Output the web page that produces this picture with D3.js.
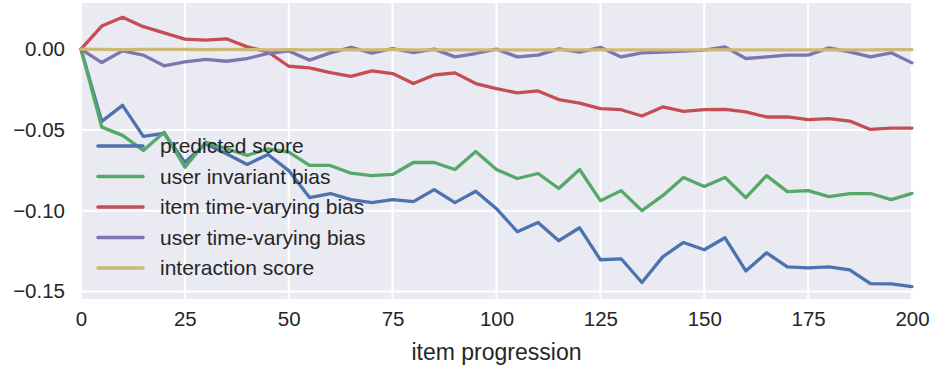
<!DOCTYPE html>
<html>
<head>
<meta charset="utf-8">
<script src="https://cdn.jsdelivr.net/npm/d3@7"></script>
<style>
  body { margin: 0; background: #fff; }
  text { font-family: "Liberation Sans", Arial, sans-serif; fill: #262626; }
</style>
</head>
<body>
<script>
// Data: x positions and one array per series
var steps = [0,5,10,15,20,25,30,35,40,45,50,55,60,65,70,75,80,85,90,95,100,
             105,110,115,120,125,130,135,140,145,150,155,160,165,170,175,180,185,190,195,200];

var predictedScore = [0,-0.0447,-0.0348,-0.0540,-0.0522,-0.0700,-0.0586,-0.0648,-0.0714,-0.0652,-0.0752,
  -0.0919,-0.0894,-0.0932,-0.0950,-0.0932,-0.0944,-0.0870,-0.0950,-0.0880,-0.0988,
  -0.1130,-0.1073,-0.1186,-0.1106,-0.1304,-0.1298,-0.1445,-0.1286,-0.1197,-0.1242,
  -0.1168,-0.1373,-0.1261,-0.1348,-0.1354,-0.1348,-0.1366,-0.1452,-0.1453,-0.1470];

var userInvariantBias = [0,-0.0483,-0.0534,-0.0627,-0.0514,-0.0731,-0.0576,-0.0617,-0.0658,-0.0617,-0.0638,
  -0.0720,-0.0720,-0.0768,-0.0783,-0.0776,-0.0702,-0.0702,-0.0745,-0.0634,-0.0745,
  -0.0801,-0.0770,-0.0863,-0.0745,-0.0938,-0.0876,-0.1000,-0.0907,-0.0795,-0.0851,
  -0.0795,-0.0919,-0.0783,-0.0882,-0.0876,-0.0913,-0.0894,-0.0894,-0.0932,-0.0893];

var itemTimeVaryingBias = [0,0.0143,0.0197,0.0139,0.0101,0.0062,0.0056,0.0064,0.0014,-0.0017,-0.0106,
  -0.0116,-0.0145,-0.0168,-0.0135,-0.0151,-0.0213,-0.0160,-0.0147,-0.0213,-0.0244,
  -0.0271,-0.0259,-0.0312,-0.0334,-0.0368,-0.0375,-0.0414,-0.0358,-0.0385,-0.0375,
  -0.0373,-0.0389,-0.0420,-0.0420,-0.0437,-0.0430,-0.0445,-0.0497,-0.0489,-0.0489];

var userTimeVaryingBias = [0,-0.0083,-0.0011,-0.0037,-0.0103,-0.0079,-0.0064,-0.0075,-0.0058,-0.0027,-0.0011,
  -0.0068,-0.0023,0.0011,-0.0025,0.0004,-0.0021,0.0000,-0.0048,-0.0027,0.0000,
  -0.0048,-0.0037,0.0002,-0.0019,0.0011,-0.0048,-0.0023,-0.0018,-0.0012,-0.0006,
  0.0014,-0.0058,-0.0048,-0.0037,-0.0037,0.0008,-0.0017,-0.0048,-0.0023,-0.0085];

var interactionScore = [0,-0.0002,-0.0003,-0.0002,-0.0001,-0.0002,-0.0003,-0.0002,-0.0003,-0.0004,-0.0003,
  -0.0004,-0.0003,-0.0004,-0.0004,-0.0003,-0.0004,-0.0005,-0.0004,-0.0004,-0.0005,
  -0.0004,-0.0005,-0.0004,-0.0005,-0.0005,-0.0004,-0.0005,-0.0005,-0.0004,-0.0005,
  -0.0005,-0.0004,-0.0005,-0.0005,-0.0004,-0.0005,-0.0004,-0.0004,-0.0003,-0.0003];

var seriesNames = ["predicted score", "user invariant bias", "item time-varying bias",
                   "user time-varying bias", "interaction score"];
var seriesValues = [predictedScore, userInvariantBias, itemTimeVaryingBias,
                    userTimeVaryingBias, interactionScore];
var colors = ["#4C72B0", "#55A868", "#C44E52", "#8172B2", "#CCB974"];

var xTicks = [0, 25, 50, 75, 100, 125, 150, 175, 200];
var yTicks = [0, -0.05, -0.10, -0.15];

//Width and height
var w = 934;
var h = 370;
var plotLeft = 81, plotRight = 912, plotTop = 3, plotBottom = 299;

var xScale = d3.scaleLinear().domain([0, 200]).range([plotLeft, plotRight]);
var yScale = d3.scaleLinear().domain([-0.1547, 0.02857]).range([plotBottom, plotTop]);

var svg = d3.select("body")
    .append("svg")
    .attr("width", w)
    .attr("height", h);

// Plot background
svg.append("rect")
    .attr("x", plotLeft)
    .attr("y", plotTop)
    .attr("width", plotRight - plotLeft)
    .attr("height", plotBottom - plotTop)
    .attr("fill", "#EAEAF2");

// Gridlines
svg.append("g")
    .selectAll("line")
    .data(xTicks)
    .enter()
    .append("line")
    .attr("x1", function(d) { return xScale(d); })
    .attr("x2", function(d) { return xScale(d); })
    .attr("y1", plotTop)
    .attr("y2", plotBottom)
    .attr("stroke", "#fff")
    .attr("stroke-width", 2);

svg.append("g")
    .selectAll("line")
    .data(yTicks)
    .enter()
    .append("line")
    .attr("x1", plotLeft)
    .attr("x2", plotRight)
    .attr("y1", function(d) { return yScale(d); })
    .attr("y2", function(d) { return yScale(d); })
    .attr("stroke", "#fff")
    .attr("stroke-width", 2);

// Axes (tick labels only, seaborn darkgrid style)
var xAxis = d3.axisBottom(xScale).tickValues(xTicks).tickSize(0).tickPadding(12)
    .tickFormat(d3.format("d"));
var yAxis = d3.axisLeft(yScale).tickValues(yTicks).tickSize(0).tickPadding(16)
    .tickFormat(function(d) { return d3.format(".2f")(d).replace("-", "\u2212"); });

var gx = svg.append("g")
    .attr("transform", `translate(0, ${plotBottom})`)
    .call(xAxis);
gx.select(".domain").remove();
gx.selectAll("text").attr("font-size", "20.5px").attr("fill", "#262626")
    .attr("font-family", "'Liberation Sans', Arial, sans-serif");

var gy = svg.append("g")
    .attr("transform", `translate(${plotLeft}, 0)`)
    .call(yAxis);
gy.select(".domain").remove();
gy.selectAll("text").attr("font-size", "20.5px").attr("fill", "#262626")
    .attr("font-family", "'Liberation Sans', Arial, sans-serif");

// Axis title
svg.append("text")
    .attr("x", (plotLeft + plotRight) / 2)
    .attr("y", 360)
    .attr("text-anchor", "middle")
    .attr("font-size", "23px")
    .text("item progression");

// Lines
var line = d3.line()
    .x(function(d, i) { return xScale(steps[i]); })
    .y(function(d) { return yScale(d); });

svg.append("g")
    .selectAll("path")
    .data(seriesValues)
    .enter()
    .append("path")
    .attr("d", line)
    .attr("fill", "none")
    .attr("stroke", function(d, i) { return colors[i]; })
    .attr("stroke-width", 3.3)
    .attr("stroke-linejoin", "round")
    .attr("stroke-linecap", "round");

// Legend
var legend = svg.append("g")
    .selectAll("g")
    .data(seriesNames)
    .enter()
    .append("g")
    .attr("transform", function(d, i) { return "translate(98," + (146 + i * 30.5) + ")"; });

legend.append("line")
    .attr("x1", 0)
    .attr("x2", 45)
    .attr("stroke", function(d, i) { return colors[i]; })
    .attr("stroke-width", 3.5)
    .attr("stroke-linecap", "round");

legend.append("text")
    .attr("x", 62)
    .attr("dy", "0.35em")
    .attr("font-size", "21px")
    .text(function(d) { return d; });
</script>
</body>
</html>
